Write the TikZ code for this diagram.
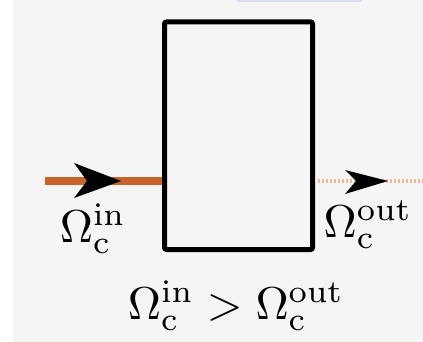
\documentclass[tikz,border=0pt]{standalone}
\usetikzlibrary{arrows.meta}
\definecolor{bg}{HTML}{F5F5F5}
\definecolor{inflow}{HTML}{C8642A}
\definecolor{outflow}{HTML}{F2B894}
\definecolor{lav}{HTML}{DCDCF5}
\tikzset{
  unitbox/.style={draw=black, line width=5pt, rounded corners=2pt, minimum width=148pt, minimum height=227.5pt, inner sep=0pt},
  inline/.style={inflow, line width=8pt},
  outline/.style={outflow, line width=4pt, dash pattern=on 2.5pt off 1.5pt},
  headfill/.style={fill=black},
  lbl/.style={anchor=base, inner sep=0pt, scale=4.6},
}
\begin{document}
\begin{tikzpicture}[x=1pt,y=-1pt]
\useasboundingbox (0,0) rectangle (423,342);
\fill[white] (0,0) rectangle (423,342);
\fill[bg] (13,0) rectangle (423,342);
\fill[lav] (237,0) rectangle (362,2.5);
\node[unitbox] (box) at (238.5,135.75) {};
% inflow
\coordinate (inL) at (45,181);
\coordinate (inR) at (box.west |- inL);
\draw[inline] (inL) -- (inR);
\fill[headfill] (121,181) -- (74,163) -- (87,181) -- (74,198) -- cycle;
% outflow
\coordinate (outL) at (box.east |- inL);
\coordinate (outR) at (423,181);
\draw[outline] ([xshift=2.5pt]outL) -- (outR);
\fill[headfill] (388,181) -- (345,170) -- (356,181) -- (345,194) -- cycle;
% labels
\node[lbl] (lin) at (93,242) {$\Omega_{\mathrm{c}}^{\mathrm{in}}$};
\node[lbl] (lout) at (368,237) {$\Omega_{\mathrm{c}}^{\mathrm{out}}$};
\node[lbl] (rel) at (236,319) {$\Omega_{\mathrm{c}}^{\mathrm{in}} > \Omega_{\mathrm{c}}^{\mathrm{out}}$};
\end{tikzpicture}
\end{document}
